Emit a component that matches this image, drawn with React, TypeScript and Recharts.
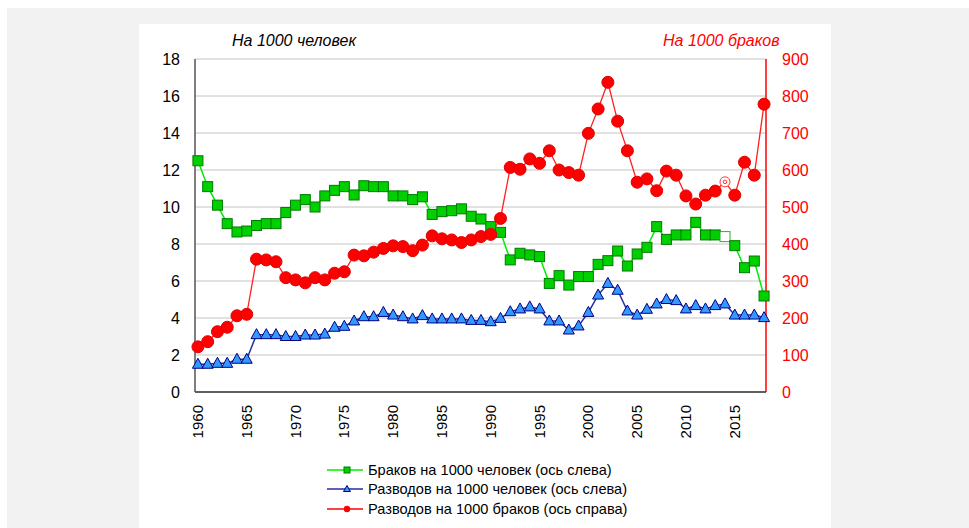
import { LineChart, Line, XAxis, YAxis, CartesianGrid } from "recharts";

const years = [
  1960, 1961, 1962, 1963, 1964, 1965, 1966, 1967, 1968, 1969,
  1970, 1971, 1972, 1973, 1974, 1975, 1976, 1977, 1978, 1979,
  1980, 1981, 1982, 1983, 1984, 1985, 1986, 1987, 1988, 1989,
  1990, 1991, 1992, 1993, 1994, 1995, 1996, 1997, 1998, 1999,
  2000, 2001, 2002, 2003, 2004, 2005, 2006, 2007, 2008, 2009,
  2010, 2011, 2012, 2013, 2014, 2015, 2016, 2017, 2018,
];

// браков на 1000 человек (левая ось)
const marriages = [
  12.5, 11.1, 10.1, 9.1, 8.65, 8.7, 9.0, 9.1, 9.1, 9.7,
  10.1, 10.4, 10.0, 10.6, 10.9, 11.1, 10.65, 11.15, 11.1, 11.1,
  10.6, 10.6, 10.4, 10.55, 9.6, 9.75, 9.8, 9.9, 9.5, 9.35,
  8.94, 8.63, 7.14, 7.5, 7.41, 7.32, 5.87, 6.29, 5.78, 6.24,
  6.24, 6.9, 7.1, 7.62, 6.81, 7.46, 7.82, 8.94, 8.25, 8.49,
  8.49, 9.17, 8.49, 8.49, 8.4, 7.91, 6.72, 7.08, 5.19,
];

// разводов на 1000 человек (левая ось)
const divorces = [
  1.5, 1.5, 1.55, 1.55, 1.77, 1.77, 3.1, 3.1, 3.1, 3.0,
  3.0, 3.08, 3.08, 3.13, 3.5, 3.55, 3.84, 4.07, 4.07, 4.3,
  4.16, 4.07, 3.95, 4.13, 3.95, 3.95, 3.95, 3.95, 3.87, 3.87,
  3.8, 3.98, 4.34, 4.49, 4.6, 4.49, 3.84, 3.84, 3.35, 3.57,
  4.3, 5.24, 5.87, 5.5, 4.38, 4.16, 4.47, 4.76, 5.0, 4.94,
  4.49, 4.67, 4.49, 4.67, 4.76, 4.16, 4.16, 4.16, 4.02,
];

// разводов на 1000 браков (правая ось)
const divorcesPerMarriages = [
  122, 136, 163, 175, 206, 210, 359, 357, 352, 309,
  303, 295, 309, 303, 321, 325, 370, 368, 378, 388,
  395, 393, 382, 397, 422, 414, 411, 404, 411, 420,
  426, 469, 607, 602, 630, 618, 652, 600, 593, 586,
  699, 765, 837, 732, 652, 567, 576, 544, 597, 586,
  530, 508, 532, 543, 568, 532, 621, 586, 778,
];

const xTicks = [1960, 1965, 1970, 1975, 1980, 1985, 1990, 1995, 2000, 2005, 2010, 2015];
const leftTicks = [0, 2, 4, 6, 8, 10, 12, 14, 16, 18];
const rightTicks = [0, 100, 200, 300, 400, 500, 600, 700, 800, 900];
const hollowYear = 2014;

const data = years.map((year, i) => ({
  year,
  marriages: marriages[i],
  divorces: divorces[i],
  ratio: divorcesPerMarriages[i],
}));

const FONT = "'Liberation Sans', Arial, sans-serif";

const SquareDot = (props: any) => {
  const { cx, cy, payload } = props;
  if (cx == null || cy == null) return null;
  const hollow = payload.year === hollowYear;
  return (
    <rect
      x={cx - 5}
      y={cy - 5}
      width={10}
      height={10}
      fill={hollow ? "#ffffff" : "#00d000"}
      stroke={hollow ? "#33aa33" : "#007a00"}
      strokeWidth={1}
    />
  );
};

const TriangleDot = (props: any) => {
  const { cx, cy } = props;
  if (cx == null || cy == null) return null;
  return (
    <path
      d={`M${cx},${cy - 6} L${cx + 5.5},${cy + 4} L${cx - 5.5},${cy + 4} Z`}
      fill="#3399ff"
      stroke="#000080"
      strokeWidth={1}
    />
  );
};

const CircleDot = (props: any) => {
  const { cx, cy, payload } = props;
  if (cx == null || cy == null) return null;
  if (payload.year === hollowYear) {
    return (
      <g>
        <circle cx={cx} cy={cy} r={5} fill="#ffffff" stroke="#ff3333" strokeWidth={1} />
        <circle cx={cx} cy={cy} r={1.8} fill="none" stroke="#ff3333" strokeWidth={1} />
      </g>
    );
  }
  return <circle cx={cx} cy={cy} r={6} fill="#ff0000" stroke="#e00000" strokeWidth={1} />;
};

const YearTick = (props: any) => {
  const { x, y, payload } = props;
  return (
    <text
      x={x + 5}
      y={y + 5}
      transform={`rotate(-90, ${x + 5}, ${y + 5})`}
      textAnchor="end"
      fontSize={15}
      fontFamily={FONT}
      fill="#000"
    >
      {payload.value}
    </text>
  );
};

const legendItems = [
  { label: "Браков на 1000 человек (ось слева)", color: "#00ee00", marker: "square" },
  { label: "Разводов на 1000 человек (ось слева)", color: "#2b2b9e", marker: "triangle" },
  { label: "Разводов на 1000 браков (ось справа)", color: "#ff0000", marker: "circle" },
];

export default function App() {
  return (
    <div style={{ position: "absolute", left: 0, top: 0, width: 969, height: 528, background: "#ffffff", overflow: "hidden", fontFamily: FONT }}>
      <div style={{ position: "absolute", left: 7, top: 8, width: 962, height: 520, background: "#f2f2f2" }} />
      <div style={{ position: "absolute", left: 139, top: 24, width: 692, height: 504, background: "#ffffff" }}>
        <LineChart
          width={692}
          height={420}
          data={data}
          margin={{ top: 35, right: 0, bottom: 0, left: 0 }}
        >
          <CartesianGrid vertical={false} stroke="#c4c4c4" yAxisId="left" />
          <XAxis
            dataKey="year"
            type="number"
            domain={[1959.7, 2018.2]}
            ticks={xTicks}
            tick={<YearTick />}
            tickLine={false}
            axisLine={{ stroke: "#333333", strokeWidth: 1.5 }}
            height={52}
            interval={0}
          />
          <YAxis
            yAxisId="left"
            domain={[0, 18]}
            ticks={leftTicks}
            width={56}
            tickLine={false}
            tickSize={0}
            tickMargin={15}
            axisLine={{ stroke: "#555555", strokeWidth: 1.5 }}
            tick={{ fill: "#000", fontSize: 16, fontFamily: FONT }}
            interval={0}
          />
          <YAxis
            yAxisId="right"
            orientation="right"
            domain={[0, 900]}
            ticks={rightTicks}
            width={65}
            tickLine={false}
            tickSize={0}
            tickMargin={16}
            axisLine={{ stroke: "#ff0000", strokeWidth: 1.5 }}
            tick={{ fill: "#ff0000", fontSize: 16, fontFamily: FONT }}
            interval={0}
          />
          <Line
            yAxisId="left"
            dataKey="marriages"
            stroke="#00ee00"
            strokeWidth={1.5}
            dot={<SquareDot />}
            isAnimationActive={false}
          />
          <Line
            yAxisId="left"
            dataKey="divorces"
            stroke="#2b2b9e"
            strokeWidth={1.5}
            dot={<TriangleDot />}
            isAnimationActive={false}
          />
          <Line
            yAxisId="right"
            dataKey="ratio"
            stroke="#ff2020"
            strokeWidth={1.3}
            dot={<CircleDot />}
            isAnimationActive={false}
          />
        </LineChart>
      </div>
      <div style={{ position: "absolute", left: 232, top: 32, fontSize: 16, fontStyle: "italic", color: "#000" }}>
        На 1000 человек
      </div>
      <div style={{ position: "absolute", left: 663, top: 32, fontSize: 16, fontStyle: "italic", color: "#ff0000" }}>
        На 1000 браков
      </div>
      <div style={{ position: "absolute", left: 327, top: 460 }}>
        {legendItems.map((item) => (
          <div key={item.label} style={{ display: "flex", alignItems: "center", height: 19.5 }}>
            <svg width={40} height={12} style={{ marginRight: 1 }}>
              <line x1={0} y1={6} x2={36} y2={6} stroke={item.color} strokeWidth={1.5} />
              {item.marker === "square" && (
                <rect x={17} y={3} width={6} height={6} fill="#00d000" stroke="#007a00" strokeWidth={1} />
              )}
              {item.marker === "triangle" && (
                <path d="M20,2.5 L23.5,8.5 L16.5,8.5 Z" fill="#3399ff" stroke="#000080" strokeWidth={1} />
              )}
              {item.marker === "circle" && <circle cx={20} cy={6} r={3.2} fill="#ff0000" />}
            </svg>
            <span style={{ fontSize: 14.6, color: "#000", whiteSpace: "nowrap" }}>{item.label}</span>
          </div>
        ))}
      </div>
    </div>
  );
}
